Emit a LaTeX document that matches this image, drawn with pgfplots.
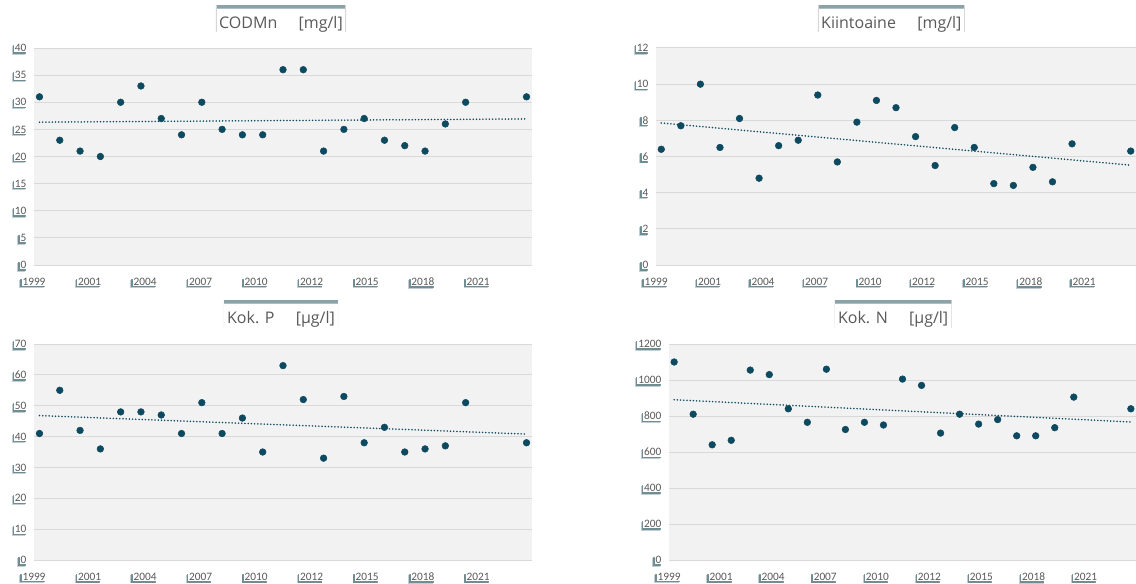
\documentclass[border=0pt]{standalone}
\usepackage{fontspec}
\setmainfont{Carlito}
\newfontfamily\titlefont{Open Sans}
\usepackage{pgfplots}
\usepackage{pgfplotstable}
\pgfplotsset{compat=1.18}
\usetikzlibrary{shadows}
\definecolor{mk}{HTML}{0E4A5F}
\definecolor{bgc}{HTML}{F2F2F2}
\definecolor{gridc}{HTML}{D9D9D9}
\definecolor{labc}{HTML}{595959}
\definecolor{shc}{HTML}{4F727B}
\definecolor{barc}{HTML}{8AA3A9}
\definecolor{boxc}{HTML}{D6D6D6}

\pgfplotstableread{
x y
1999 31
2000 23
2001 21
2002 20
2003 30
2004 33
2005 27
2006 24
2007 30
2008 25
2009 24
2010 24
2011 36
2012 36
2013 21
2014 25
2015 27
2016 23
2017 22
2018 21
2019 26
2020 30
2023 31
}\codmn

\pgfplotstableread{
x y
1999 6.4
2000 7.7
2001 10.0
2002 6.5
2003 8.1
2004 4.8
2005 6.6
2006 6.9
2007 9.4
2008 5.7
2009 7.9
2010 9.1
2011 8.7
2012 7.1
2013 5.5
2014 7.6
2015 6.5
2016 4.5
2017 4.4
2018 5.4
2019 4.6
2020 6.7
2023 6.3
}\kiinto

\pgfplotstableread{
x y
1999 41
2000 55
2001 42
2002 36
2003 48
2004 48
2005 47
2006 41
2007 51
2008 41
2009 46
2010 35
2011 63
2012 52
2013 33
2014 53
2015 38
2016 43
2017 35
2018 36
2019 37
2020 51
2023 38
}\kokp

\pgfplotstableread{
x y
1999 1100
2000 810
2001 640
2002 665
2003 1055
2004 1030
2005 840
2006 765
2007 1060
2008 725
2009 765
2010 750
2011 1005
2012 970
2013 705
2014 810
2015 755
2016 780
2017 690
2018 690
2019 735
2020 905
2023 840
}\kokn

\tikzset{titlebox/.style={fill=white, inner xsep=2.5pt, inner ysep=0pt,
  text height=17.5pt, text depth=2.8pt,
  font=\titlefont\fontsize{12}{14}\selectfont, text=labc,
  path picture={
    \fill[barc!70] (path picture bounding box.north west) rectangle ([yshift=-3pt]path picture bounding box.north east);
    \fill[barc] (path picture bounding box.north west) rectangle ([yshift=-2pt]path picture bounding box.north east);
    \draw[boxc, line width=1pt] (path picture bounding box.north west) -- (path picture bounding box.south west);
    \draw[boxc, line width=1pt] (path picture bounding box.north east) -- (path picture bounding box.south east);
  }}}

\pgfplotsset{chart/.style={
  scale only axis, anchor=south west, clip=false,
  axis line style={draw=none},
  major tick style={draw=none}, minor tick style={draw=none},
  axis background/.style={fill=bgc},
  ymajorgrids, major grid style={draw=gridc, line width=0.75pt},
  xmin=1998.73, xmax=2023.27,
  xtick={1998.73,2001.47,2004.20,2006.94,2009.68,2012.41,2015.15,2017.89,2020.62},
  xticklabels={1999,2001,2004,2007,2010,2012,2015,2018,2021},
  ymin=0,
  /pgf/number format/assume math mode=true,
  /pgf/number format/1000 sep={},
  tick label style={font=\fontsize{8.5}{9}\selectfont, text=labc, fill=white,
    inner xsep=0.6pt, inner ysep=0.5pt,
    drop shadow={shadow xshift=-1.8pt, shadow yshift=-1.8pt, fill=shc, opacity=0.35},
    drop shadow={shadow xshift=-1.1pt, shadow yshift=-1.1pt, fill=shc, opacity=0.7}},
  xticklabel style={yshift=-9pt},
  yticklabel style={xshift=-5pt},
}}
\pgfplotsset{pts/.style={only marks, mark=*, mark size=2.5pt, color=mk, mark options={draw=mk, fill=mk}},
  trend/.style={no marks, color=mk, line width=1.3pt, dash pattern=on 0.01pt off 2.4pt, line cap=round}}

\begin{document}
\begin{tikzpicture}
\path[use as bounding box] (0,0) rectangle (852pt,437.25pt);

\begin{axis}[chart, at={(25.5pt,238.5pt)}, width=373.5pt, height=162.75pt,
  ymax=40, ytick distance=5]
\addplot[pts] table[x=x,y=y]{\codmn};
\addplot[trend] table[x=x, y={create col/linear regression={y=y}}]{\codmn};
\node[titlebox, yshift=22pt, xshift=-1.5pt] at (rel axis cs:0.5,1) {CODMn\hspace{16pt}[mg/l]};
\end{axis}

\begin{axis}[chart, at={(492pt,238.5pt)}, width=360pt, height=162.75pt,
  ymax=12, ytick distance=2]
\addplot[pts] table[x=x,y=y]{\kiinto};
\addplot[trend] table[x=x, y={create col/linear regression={y=y}}]{\kiinto};
\node[titlebox, yshift=22pt, xshift=-3.5pt] at (rel axis cs:0.5,1) {Kiintoaine\hspace{16pt}[mg/l]};
\end{axis}

\begin{axis}[chart, at={(25.5pt,17.25pt)}, width=373.5pt, height=162pt,
  ymax=70, ytick distance=10]
\addplot[pts] table[x=x,y=y]{\kokp};
\addplot[trend] table[x=x, y={create col/linear regression={y=y}}]{\kokp};
\node[titlebox, yshift=22.5pt, xshift=-1.5pt] at (rel axis cs:0.5,1) {Kok. P\hspace{16pt}[µg/l]};
\end{axis}

\begin{axis}[chart, at={(501.75pt,17.25pt)}, width=350.25pt, height=162pt,
  ymax=1200, ytick distance=200]
\addplot[pts] table[x=x,y=y]{\kokn};
\addplot[trend] table[x=x, y={create col/linear regression={y=y}}]{\kokn};
\node[titlebox, yshift=22.5pt, xshift=-7pt] at (rel axis cs:0.5,1) {Kok. N\hspace{16pt}[µg/l]};
\end{axis}
\end{tikzpicture}
\end{document}
